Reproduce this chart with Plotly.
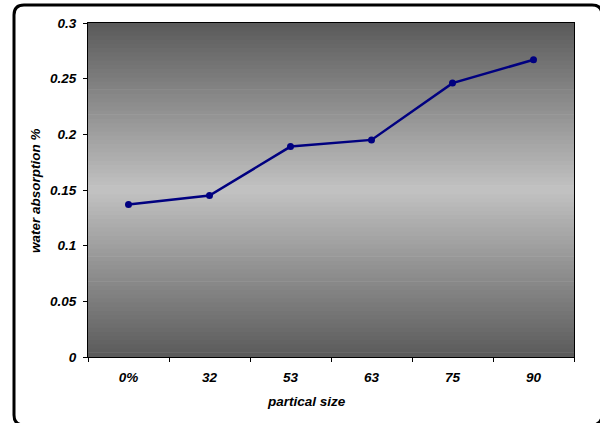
import plotly.graph_objects as go

categories = ["0%", "32", "53", "63", "75", "90"]
water_absorption = [0.137, 0.145, 0.189, 0.195, 0.246, 0.267]

W, H = 600, 423
L, R, T, B = 88, 26, 23, 66
pw, ph = W - L - R, H - T - B

def px_x(x):
    return (x - L) / pw

def px_y(y):
    return (H - B - y) / ph

fig = go.Figure()

# gradient background strips (dark at edges, light in middle)
n = 80
shapes = []
dark, light = 0x5a, 0xc2
for i in range(n):
    f0 = i / n
    f1 = (i + 1) / n
    mid = (f0 + f1) / 2
    t = 1 - abs(mid - 0.5) * 2
    v = int(round(dark + (light - dark) * t))
    c = f"rgb({v},{v},{v})"
    shapes.append(dict(type="rect", xref="paper", yref="paper", x0=0, x1=1,
                       y0=f0, y1=f1 + 0.002, fillcolor=c, line=dict(width=0),
                       layer="below"))

# rounded outer border
x0, x1 = px_x(14), px_x(602)
y0, y1 = px_y(5), px_y(425)
r = 10
rx, ry = r / pw, r / ph
path = (f"M {x0},{y0 - ry} Q {x0},{y0} {x0 + rx},{y0} L {x1 - rx},{y0} "
        f"Q {x1},{y0} {x1},{y0 - ry} L {x1},{y1 + ry} Q {x1},{y1} {x1 - rx},{y1} "
        f"L {x0 + rx},{y1} Q {x0},{y1} {x0},{y1 + ry} Z")
shapes.append(dict(type="path", xref="paper", yref="paper", path=path,
                   line=dict(color="black", width=3), layer="above"))

fig.add_trace(go.Scatter(
    x=categories, y=water_absorption, mode="lines+markers",
    line=dict(color="#000080", width=2.5),
    marker=dict(color="#000080", size=7),
    showlegend=False, cliponaxis=False,
))

FAM = "Liberation Sans, Arial, sans-serif"
FS = 13.5
tickfont = dict(family=FAM, size=FS, color="black", style="italic", weight="bold")

annotations = [
    dict(text="<b><i>partical size</i></b>", xref="paper", yref="paper",
         x=px_x(306), y=px_y(402), xanchor="center", yanchor="middle",
         showarrow=False, font=dict(family=FAM, size=FS, color="black")),
    dict(text="<b><i>water absorption %</i></b>", xref="paper", yref="paper",
         x=px_x(35), y=px_y(191), xanchor="center", yanchor="middle",
         textangle=-90, showarrow=False,
         font=dict(family=FAM, size=FS, color="black")),
]

fig.update_layout(
    width=W, height=H,
    margin=dict(l=L, r=R, t=T, b=B),
    paper_bgcolor="white",
    plot_bgcolor="rgba(0,0,0,0)",
    shapes=shapes,
    annotations=annotations,
    font=dict(family=FAM, size=FS, color="black"),
    xaxis=dict(
        type="category", tickson="boundaries", ticks="outside", ticklen=4,
        tickcolor="black", showline=True, linecolor="black", linewidth=1,
        mirror=True, showgrid=False, zeroline=False,
        tickfont=tickfont, ticklabelstandoff=8,
        range=[-0.5, 5.5],
    ),
    yaxis=dict(
        range=[0, 0.3], dtick=0.05, ticks="outside", ticklen=4,
        tickcolor="black", showline=True, linecolor="black", linewidth=1,
        mirror=True, showgrid=False, zeroline=False,
        tickfont=tickfont, ticklabelstandoff=4,
    ),
)

fig.write_html(
    "out.html",
    config={"displayModeBar": False},
    post_script="document.body.style.margin='0';document.body.style.overflow='hidden';",
)
